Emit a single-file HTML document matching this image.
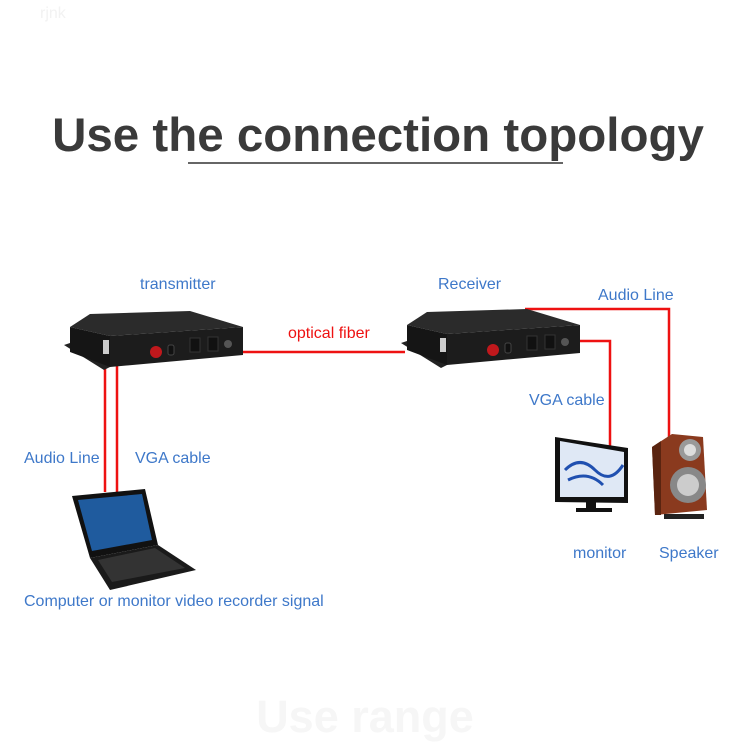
<!DOCTYPE html>
<html><head><meta charset="utf-8"><style>
html,body{margin:0;padding:0;background:#fff;}
svg{display:block;}
text{font-family:"Liberation Sans",sans-serif;}
</style></head><body>
<svg width="750" height="750" viewBox="0 0 750 750" xmlns="http://www.w3.org/2000/svg">
<defs>
<g id="dev">
  <polygon points="64,345 76,341 112,366 104,370" fill="#222"/>
  <polygon points="70,327 90,314 190,311 243,327 110,336" fill="#2b2b2b"/>
  <polygon points="70,327 110,336 110,367 70,352" fill="#151515"/>
  <polygon points="110,336 243,327 243,355 110,367" fill="#1c1c1c"/>
  <rect x="103" y="340" width="6" height="14" fill="#ccc"/>
  <circle cx="156" cy="352" r="6" fill="#c0181c"/>
  <rect x="168" y="345" width="6" height="10" rx="2" fill="#111" stroke="#444"/>
  <rect x="190" y="338" width="10" height="14" fill="#111" stroke="#333"/>
  <rect x="208" y="337" width="10" height="14" fill="#111" stroke="#333"/>
  <circle cx="228" cy="344" r="4" fill="#555"/>
</g>
</defs>
<text x="40" y="18" font-size="16" fill="#f2f2f2">rjnk</text>
<text x="378" y="151" font-size="47.5" font-weight="bold" fill="#3a3a3a" text-anchor="middle">Use the connection topology</text>
<line x1="188" y1="163" x2="563" y2="163" stroke="#333" stroke-width="1.5"/>

<g stroke="#ee1111" stroke-width="2.5" fill="none">
  <line x1="105" y1="366" x2="105" y2="492"/>
  <line x1="117" y1="366" x2="117" y2="492"/>
  <line x1="243" y1="352" x2="405" y2="352"/>
  <polyline points="525,309 669,309 669,438"/>
  <polyline points="580,341 610,341 610,448"/>
</g>

<use href="#dev"/>
<use href="#dev" transform="translate(337,-2)"/>

<!-- laptop -->
<polygon points="72,496 145,489 158,545 90,558" fill="#111"/>
<polygon points="78,500 142,494 152,540 92,551" fill="#1f5b9e"/>
<polygon points="90,558 158,545 196,570 110,590" fill="#1a1a1a"/>
<polygon points="98,560 155,548 185,568 112,582" fill="#333"/>

<!-- monitor -->
<polygon points="555,437 628,448 628,503 555,502" fill="#111"/>
<polygon points="560,441 624,452 624,497 560,497" fill="#dfe8f5"/>
<path d="M565,470 q15,-15 30,0 t28,-5 M568,480 q20,-10 35,5" stroke="#2050b0" stroke-width="3" fill="none"/>
<rect x="586" y="502" width="10" height="6" fill="#111"/>
<rect x="576" y="508" width="36" height="4" fill="#111"/>

<!-- speaker -->
<polygon points="652,447 672,434 703,437 707,510 655,515" fill="#8a3a1e"/>
<polygon points="652,447 661,441 661,515 655,515" fill="#5a2410"/>
<circle cx="690" cy="450" r="11" fill="#999"/>
<circle cx="690" cy="450" r="6" fill="#ddd"/>
<circle cx="688" cy="485" r="18" fill="#888"/>
<circle cx="688" cy="485" r="11" fill="#ccc"/>
<rect x="664" y="514" width="40" height="5" fill="#222"/>

<g fill="#3e78c9" font-size="16">
  <text x="140" y="289">transmitter</text>
  <text x="438" y="289">Receiver</text>
  <text x="598" y="300">Audio Line</text>
  <text x="529" y="405">VGA cable</text>
  <text x="24" y="463">Audio Line</text>
  <text x="135" y="463">VGA cable</text>
  <text x="573" y="558">monitor</text>
  <text x="659" y="558">Speaker</text>
  <text x="24" y="606">Computer or monitor video recorder signal</text>
</g>
<text x="288" y="338" font-size="16" fill="#ee1111">optical fiber</text>
<text x="365" y="732" font-size="45" font-weight="bold" fill="#f6f6f6" text-anchor="middle">Use range</text>
</svg>
</body></html>
